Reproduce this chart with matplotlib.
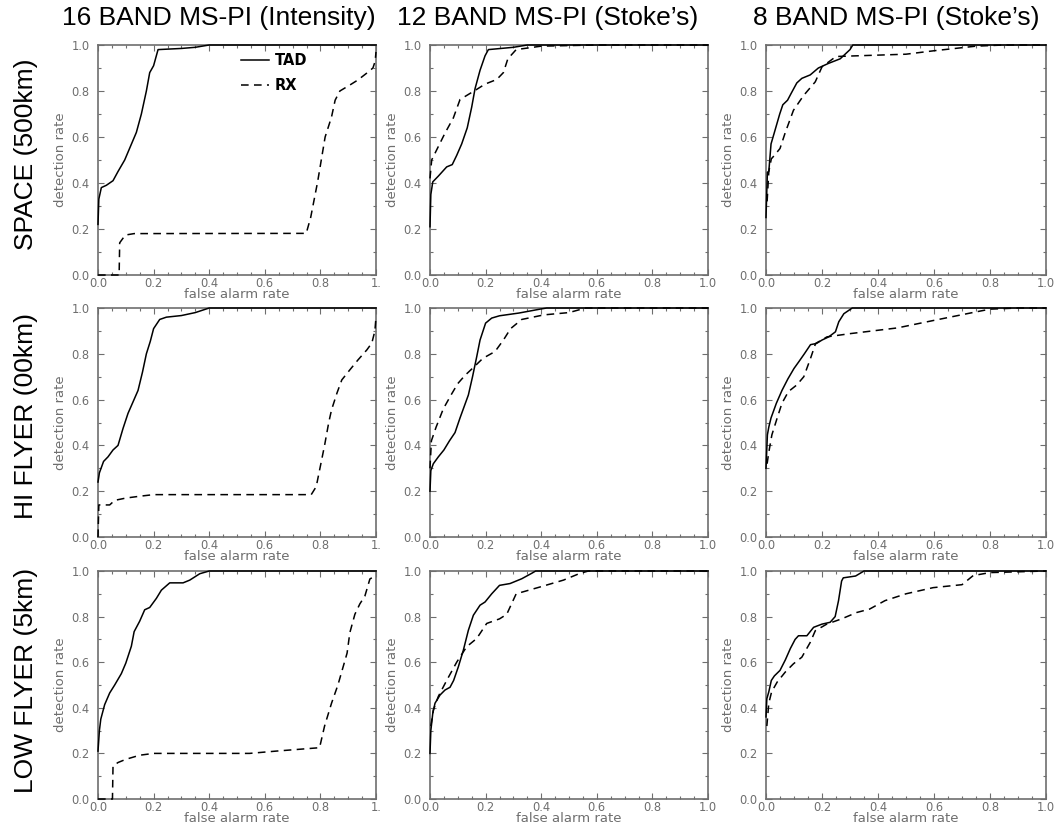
import matplotlib
matplotlib.use('Agg')
import matplotlib.pyplot as plt
from matplotlib.ticker import MultipleLocator

col_titles = ['16 BAND MS-PI (Intensity)', '12 BAND MS-PI (Stoke\u2019s)', '8 BAND MS-PI (Stoke\u2019s)']
row_labels = ['SPACE (500km)', 'HI FLYER (00km)', 'LOW FLYER (5km)']
series_names = ['TAD', 'RX']
tick_vals = [0.0, 0.2, 0.4, 0.6, 0.8, 1.0]
tick_text = ['0.0', '0.2', '0.4', '0.6', '0.8', '1.0']

# ROC curves: fa = false alarm rate, dr = detection rate
space_b16_tad_fa = [0.0, 0.003, 0.012, 0.03, 0.054, 0.072, 0.096, 0.117, 0.138, 0.156, 0.174, 0.186, 0.2, 0.216, 0.3, 0.35, 0.4, 1.0]
space_b16_tad_dr = [0.22, 0.33, 0.38, 0.39, 0.41, 0.45, 0.5, 0.56, 0.62, 0.70, 0.80, 0.88, 0.91, 0.98, 0.985, 0.99, 1.0, 1.0]
space_b16_rx_fa = [0.0, 0.076, 0.078, 0.09, 0.10, 0.13, 0.749, 0.765, 0.79, 0.817, 0.84, 0.853, 0.87, 0.906, 0.935, 0.967, 0.989, 0.997, 1.0]
space_b16_rx_dr = [0.0, 0.0, 0.14, 0.16, 0.174, 0.18, 0.181, 0.25, 0.405, 0.6, 0.687, 0.76, 0.80, 0.826, 0.848, 0.878, 0.90, 0.93, 0.97]

space_b12_tad_fa = [0.0, 0.003, 0.01, 0.03, 0.06, 0.08, 0.096, 0.114, 0.134, 0.15, 0.162, 0.18, 0.198, 0.21, 0.30, 0.35, 1.0]
space_b12_tad_dr = [0.21, 0.35, 0.405, 0.43, 0.47, 0.48, 0.52, 0.57, 0.64, 0.73, 0.81, 0.89, 0.953, 0.98, 0.99, 1.0, 1.0]
space_b12_rx_fa = [0.0, 0.006, 0.024, 0.054, 0.084, 0.108, 0.138, 0.168, 0.198, 0.24, 0.264, 0.28, 0.31, 0.4, 0.6, 1.0]
space_b12_rx_dr = [0.42, 0.5, 0.544, 0.617, 0.683, 0.763, 0.785, 0.807, 0.83, 0.85, 0.88, 0.94, 0.98, 0.995, 1.0, 1.0]

space_b8_tad_fa = [0.0, 0.005, 0.01, 0.018, 0.03, 0.049, 0.06, 0.077, 0.09, 0.11, 0.128, 0.158, 0.187, 0.223, 0.265, 0.30, 0.31, 1.0]
space_b8_tad_dr = [0.25, 0.447, 0.45, 0.57, 0.62, 0.70, 0.74, 0.76, 0.79, 0.835, 0.855, 0.87, 0.9, 0.92, 0.94, 0.98, 1.0, 1.0]
space_b8_rx_fa = [0.004, 0.01, 0.019, 0.03, 0.05, 0.069, 0.098, 0.134, 0.176, 0.2, 0.25, 0.5, 0.6, 0.75, 0.85, 1.0]
space_b8_rx_dr = [0.32, 0.45, 0.505, 0.52, 0.55, 0.62, 0.716, 0.78, 0.84, 0.905, 0.95, 0.96, 0.975, 0.995, 1.0, 1.0]

hi_b16_tad_fa = [0.0, 0.005, 0.02, 0.036, 0.054, 0.072, 0.09, 0.108, 0.126, 0.144, 0.16, 0.174, 0.188, 0.2, 0.222, 0.246, 0.30, 0.35, 0.40, 1.0]
hi_b16_tad_dr = [0.24, 0.28, 0.33, 0.35, 0.38, 0.40, 0.474, 0.54, 0.59, 0.64, 0.72, 0.80, 0.854, 0.91, 0.95, 0.96, 0.967, 0.98, 1.0, 1.0]
hi_b16_rx_fa = [0.0, 0.003, 0.042, 0.06, 0.1, 0.15, 0.2, 0.767, 0.785, 0.80, 0.815, 0.83, 0.84, 0.86, 0.877, 0.906, 0.935, 0.967, 0.985, 0.996, 1.0]
hi_b16_rx_dr = [0.0, 0.14, 0.14, 0.16, 0.17, 0.178, 0.185, 0.185, 0.22, 0.31, 0.40, 0.50, 0.555, 0.63, 0.686, 0.73, 0.773, 0.817, 0.847, 0.90, 0.96]

hi_b12_tad_fa = [0.0, 0.003, 0.012, 0.03, 0.05, 0.07, 0.09, 0.108, 0.126, 0.138, 0.153, 0.168, 0.18, 0.2, 0.222, 0.25, 0.32, 0.40, 0.42, 1.0]
hi_b12_tad_dr = [0.2, 0.29, 0.32, 0.35, 0.38, 0.42, 0.456, 0.52, 0.58, 0.62, 0.70, 0.787, 0.86, 0.934, 0.956, 0.966, 0.978, 0.996, 1.0, 1.0]
hi_b12_rx_fa = [0.0, 0.005, 0.022, 0.048, 0.078, 0.1, 0.126, 0.156, 0.19, 0.234, 0.264, 0.29, 0.33, 0.41, 0.5, 0.56, 1.0]
hi_b12_rx_dr = [0.3, 0.42, 0.48, 0.56, 0.625, 0.67, 0.706, 0.74, 0.78, 0.81, 0.86, 0.91, 0.95, 0.97, 0.98, 1.0, 1.0]

hi_b8_tad_fa = [0.0, 0.005, 0.01, 0.018, 0.037, 0.057, 0.078, 0.1, 0.117, 0.137, 0.159, 0.18, 0.2, 0.224, 0.248, 0.26, 0.278, 0.308, 1.0]
hi_b8_tad_dr = [0.3, 0.446, 0.48, 0.52, 0.584, 0.64, 0.69, 0.736, 0.765, 0.80, 0.84, 0.845, 0.86, 0.874, 0.896, 0.94, 0.975, 1.0, 1.0]
hi_b8_rx_fa = [0.004, 0.01, 0.021, 0.04, 0.057, 0.08, 0.11, 0.135, 0.159, 0.177, 0.218, 0.30, 0.469, 0.60, 0.75, 0.8, 0.9, 1.0]
hi_b8_rx_dr = [0.32, 0.37, 0.446, 0.52, 0.584, 0.635, 0.664, 0.70, 0.78, 0.845, 0.874, 0.888, 0.913, 0.946, 0.983, 0.995, 1.0, 1.0]

low_b16_tad_fa = [0.0, 0.005, 0.01, 0.024, 0.042, 0.06, 0.084, 0.1, 0.12, 0.13, 0.15, 0.168, 0.186, 0.21, 0.228, 0.258, 0.306, 0.33, 0.366, 0.4, 1.0]
low_b16_tad_dr = [0.21, 0.30, 0.35, 0.414, 0.465, 0.50, 0.55, 0.596, 0.67, 0.734, 0.78, 0.83, 0.84, 0.88, 0.916, 0.948, 0.948, 0.96, 0.988, 1.0, 1.0]
low_b16_rx_fa = [0.0, 0.052, 0.054, 0.072, 0.1, 0.15, 0.2, 0.545, 0.64, 0.797, 0.815, 0.84, 0.863, 0.896, 0.906, 0.924, 0.942, 0.96, 0.978, 0.985]
low_b16_rx_dr = [0.0, 0.0, 0.145, 0.16, 0.174, 0.192, 0.2, 0.2, 0.21, 0.225, 0.32, 0.42, 0.50, 0.64, 0.73, 0.81, 0.856, 0.89, 0.965, 0.97]

low_b12_tad_fa = [0.0, 0.003, 0.01, 0.018, 0.036, 0.054, 0.072, 0.085, 0.102, 0.12, 0.138, 0.156, 0.18, 0.198, 0.222, 0.25, 0.288, 0.33, 0.366, 0.38, 1.0]
low_b12_tad_dr = [0.2, 0.3, 0.376, 0.42, 0.456, 0.478, 0.49, 0.52, 0.58, 0.653, 0.74, 0.806, 0.85, 0.864, 0.9, 0.937, 0.945, 0.966, 0.99, 1.0, 1.0]
low_b12_rx_fa = [0.003, 0.012, 0.03, 0.06, 0.096, 0.132, 0.168, 0.204, 0.25, 0.276, 0.31, 0.396, 0.48, 0.54, 0.57, 1.0]
low_b12_rx_dr = [0.32, 0.39, 0.45, 0.52, 0.6, 0.668, 0.704, 0.77, 0.79, 0.81, 0.9, 0.93, 0.96, 0.99, 1.0, 1.0]

low_b8_tad_fa = [0.0, 0.003, 0.01, 0.019, 0.03, 0.05, 0.069, 0.087, 0.104, 0.116, 0.146, 0.17, 0.2, 0.229, 0.247, 0.259, 0.27, 0.276, 0.32, 0.35, 1.0]
low_b8_tad_dr = [0.36, 0.44, 0.47, 0.52, 0.54, 0.564, 0.61, 0.66, 0.70, 0.716, 0.716, 0.753, 0.767, 0.775, 0.80, 0.87, 0.956, 0.97, 0.978, 1.0, 1.0]
low_b8_rx_fa = [0.003, 0.01, 0.02, 0.04, 0.069, 0.098, 0.128, 0.158, 0.176, 0.217, 0.27, 0.324, 0.37, 0.425, 0.5, 0.597, 0.70, 0.74, 0.8, 1.0]
low_b8_rx_dr = [0.32, 0.42, 0.47, 0.513, 0.557, 0.593, 0.622, 0.687, 0.738, 0.767, 0.79, 0.818, 0.833, 0.87, 0.90, 0.927, 0.94, 0.98, 0.993, 1.0]

panels = [
    [(space_b16_tad_fa, space_b16_tad_dr, space_b16_rx_fa, space_b16_rx_dr),
     (space_b12_tad_fa, space_b12_tad_dr, space_b12_rx_fa, space_b12_rx_dr),
     (space_b8_tad_fa, space_b8_tad_dr, space_b8_rx_fa, space_b8_rx_dr)],
    [(hi_b16_tad_fa, hi_b16_tad_dr, hi_b16_rx_fa, hi_b16_rx_dr),
     (hi_b12_tad_fa, hi_b12_tad_dr, hi_b12_rx_fa, hi_b12_rx_dr),
     (hi_b8_tad_fa, hi_b8_tad_dr, hi_b8_rx_fa, hi_b8_rx_dr)],
    [(low_b16_tad_fa, low_b16_tad_dr, low_b16_rx_fa, low_b16_rx_dr),
     (low_b12_tad_fa, low_b12_tad_dr, low_b12_rx_fa, low_b12_rx_dr),
     (low_b8_tad_fa, low_b8_tad_dr, low_b8_rx_fa, low_b8_rx_dr)],
]

W, H = 1058, 831
fig = plt.figure(figsize=(W / 100, H / 100), dpi=100)

# panel placement in pixels
col_left = [98, 430, 766]
col_w = [278, 278, 280]
row_top = [45, 308, 571]
row_h = [230, 229, 228]
title_x = [219, 548, 896]
label_y = [154, 416, 680]

grey = '#6e6e6e'
dash = (0, (5, 3.5))

for r in range(3):
    for c in range(3):
        tad_fa, tad_dr, rx_fa, rx_dr = panels[r][c]
        ax = fig.add_axes([col_left[c] / W, 1 - (row_top[r] + row_h[r]) / H,
                           col_w[c] / W, row_h[r] / H])
        ax.plot(tad_fa, tad_dr, color='black', lw=1.1, label=series_names[0],
                clip_on=False, zorder=5)
        ax.plot(rx_fa, rx_dr, color='black', lw=1.1, ls=dash, label=series_names[1],
                clip_on=False, zorder=5)
        ax.set_xlim(0, 1)
        ax.set_ylim(0, 1)
        ax.set_xticks(tick_vals)
        ax.set_yticks(tick_vals)
        xt = list(tick_text)
        if c == 0:
            xt[-1] = '1.'
        ax.set_xticklabels(xt)
        ax.set_yticklabels(tick_text)
        ax.xaxis.set_minor_locator(MultipleLocator(0.05))
        ax.yaxis.set_minor_locator(MultipleLocator(0.1))
        ax.tick_params(which='both', direction='in', top=True, right=True,
                       color=grey, labelcolor=grey, width=0.8, labelsize=8.3)
        ax.tick_params(which='major', length=4)
        ax.tick_params(which='minor', length=2)
        ax.tick_params(axis='x', pad=1.5)
        ax.tick_params(axis='y', pad=6)
        for sp in ax.spines.values():
            sp.set_color(grey)
            sp.set_linewidth(1.2)
        ax.set_xlabel('false alarm rate', color=grey, fontsize=9.5, labelpad=-1.5)
        ax.set_ylabel('detection rate', color=grey, fontsize=9.5, labelpad=3)
        if r == 0 and c == 0:
            ax.legend(loc='upper left', bbox_to_anchor=(0.515, 0.965), frameon=False,
                      prop={'weight': 'bold', 'size': 10.5}, handlelength=1.9,
                      handletextpad=0.4, labelspacing=0.7, borderpad=0,
                      borderaxespad=0)

for c in range(3):
    fig.text(title_x[c] / W, 1 - 18 / H, col_titles[c], ha='center', va='center',
             fontsize=19, family='Liberation Sans')
for r in range(3):
    fig.text(26 / W, 1 - label_y[r] / H, row_labels[r], ha='center', va='center',
             rotation=90, fontsize=19, family='Liberation Sans')

fig.savefig('out.png', dpi=100)
